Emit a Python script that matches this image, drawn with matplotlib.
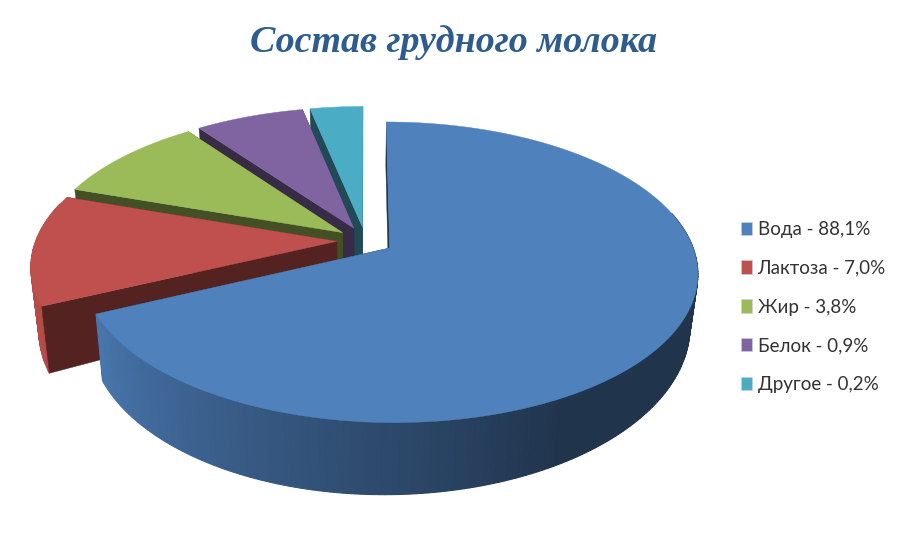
import numpy as np
import matplotlib
matplotlib.use('Agg')
import matplotlib.pyplot as plt
from matplotlib.patches import Patch

title = 'Состав грудного молока'
names = ['Вода', 'Лактоза', 'Жир', 'Белок', 'Другое']
percents = ['88,1%', '7,0%', '3,8%', '0,9%', '0,2%']
# доли секторов, как они нарисованы на картинке (не совпадают с подписями)
shares = [68.1, 12.1, 9.7, 6.8, 3.3]
colors = ['#4F81BD', '#C0504D', '#9BBB59', '#8064A2', '#4BACC6']

EXPLODE = 0.095
X0, Y0 = 365.4, 240.6
BX, AY, C = 301.0, -144.0, 0.16
SHRINK = 0.976


def top_xy(u, v):
    """точка диска -> пиксели верхней грани (перспектива)"""
    w = 1 + C * v
    return X0 + BX * u / w, Y0 + AY * v / w


def bottom_xy(u, v):
    """та же точка на нижней грани"""
    x, y = top_xy(u, v)
    d = 62 + 0.095 * (y - 316) - 0.017 * (x - 388)
    return X0 + SHRINK * (x - X0), y + d


def shade(deg):
    return np.clip(0.4 + (deg - 150) * 0.0055, 0.4, 0.95)


def mix(color, k):
    return tuple(c * k for c in matplotlib.colors.to_rgb(color))


fig = plt.figure(figsize=(9.04, 5.45), dpi=100)
ax = fig.add_axes([0, 0, 1, 1])
ax.set_xlim(0, 904)
ax.set_ylim(545, 0)
ax.axis('off')

edges = np.cumsum([0] + shares) / sum(shares) * 360

# рисуем от дальних секторов к ближним
for i in reversed(range(len(shares))):
    a0, a1 = edges[i], edges[i + 1]
    mid = np.radians((a0 + a1) / 2)
    cu, cv = EXPLODE * np.sin(mid), EXPLODE * np.cos(mid)
    deg = np.linspace(a0, a1, int(a1 - a0) + 2)
    u = cu + np.sin(np.radians(deg))
    v = cv + np.cos(np.radians(deg))
    tx, ty = top_xy(u, v)
    bx, by = bottom_xy(u, v)
    ax0, ay0 = top_xy(cu, cv)
    ax1, ay1 = bottom_xy(cu, cv)
    dark = mix(colors[i], 0.43)

    # дальний срез не виден, кладём его под стенку
    ax.fill([ax0, tx[-1], bx[-1], ax1], [ay0, ty[-1], by[-1], ay1], color=dark, lw=0.3)

    # внешняя стенка полосами, только видимая её часть
    for j in range(len(deg) - 1):
        if 75 < deg[j] < 285:
            c = mix(colors[i], shade(deg[j]))
            ax.fill([tx[j], tx[j + 1], bx[j + 1], bx[j]],
                    [ty[j], ty[j + 1], by[j + 1], by[j]], color=c, lw=0.8)

    # ближний срез
    ax.fill([ax0, tx[0], bx[0], ax1], [ay0, ty[0], by[0], ay1], color=dark, lw=0.3)

    # верхняя грань
    ax.fill(np.r_[ax0, tx], np.r_[ay0, ty], color=colors[i], lw=0.3)

ax.text(453.5, 52, title, ha='center', va='baseline', color='#2E5C8E', fontsize=27.4,
        family='Liberation Serif', fontweight='bold', fontstyle='italic')

handles = [Patch(facecolor=c, edgecolor='#c9d3de', lw=0.4) for c in colors]
labels = [f'{n} - {p}' for n, p in zip(names, percents)]
ax.legend(handles, labels, loc='center left', bbox_to_anchor=(724, 307),
          bbox_transform=ax.transData, frameon=False, handlelength=0.62, handleheight=0.7,
          handletextpad=0.27, labelspacing=1.17, prop={'family': ['Lato', 'Open Sans'], 'size': 13.5},
          labelcolor='#333333')

fig.savefig('out.png', dpi=100, facecolor='white')
